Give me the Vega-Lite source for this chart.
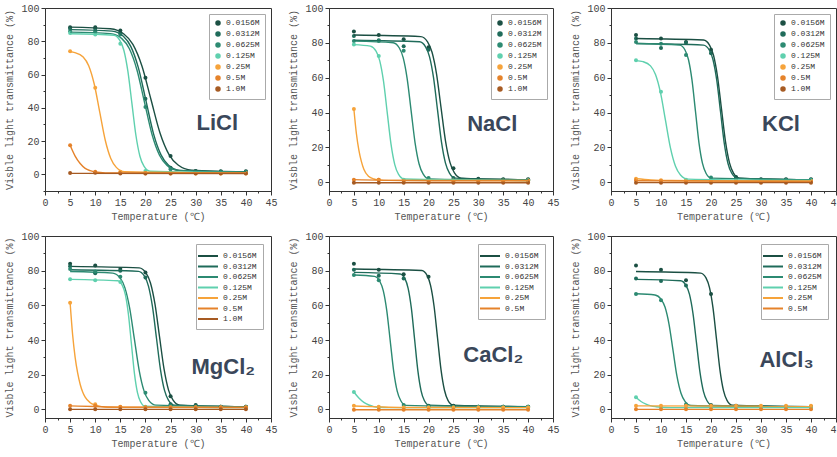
{
"$schema": "https://vega.github.io/schema/vega-lite/v6.json",
"background": "white",
"padding": {"left": 4, "top": 2, "right": 2, "bottom": 2},
"spacing": 8,
"resolve": {"scale": {"fill": "independent", "stroke": "independent", "color": "independent"}},
"config": {
 "view": {"stroke": "#333", "strokeWidth": 1},
 "axis": {"grid": false, "domainColor": "#333", "tickColor": "#333", "labelFont": "Liberation Mono", "labelFontSize": 10, "labelColor": "#444", "titleFont": "Liberation Mono", "titleFontSize": 10, "titleFontWeight": "normal", "titleColor": "#555", "labelFlush": false, "labelOverlap": false, "labelPadding": 2},
 "axisY": {"titlePadding": 6},
 "axisX": {"titlePadding": 4},
 "legend": {"disable": false}
},
"datasets": {
"pts": [
{"p":"LiCl","c":"0.0156M","t":5,"v":88.5},{"p":"LiCl","c":"0.0156M","t":10,"v":88.5},{"p":"LiCl","c":"0.0156M","t":15,"v":86.5},{"p":"LiCl","c":"0.0156M","t":20,"v":58},{"p":"LiCl","c":"0.0156M","t":25,"v":11},{"p":"LiCl","c":"0.0156M","t":30,"v":2},{"p":"LiCl","c":"0.0156M","t":35,"v":1.8},{"p":"LiCl","c":"0.0156M","t":40,"v":1.8},
{"p":"LiCl","c":"0.0312M","t":5,"v":87.5},{"p":"LiCl","c":"0.0312M","t":10,"v":87.5},{"p":"LiCl","c":"0.0312M","t":15,"v":85},{"p":"LiCl","c":"0.0312M","t":20,"v":45.5},{"p":"LiCl","c":"0.0312M","t":25,"v":4},{"p":"LiCl","c":"0.0312M","t":30,"v":1.8},{"p":"LiCl","c":"0.0312M","t":35,"v":1.5},{"p":"LiCl","c":"0.0312M","t":40,"v":1.5},
{"p":"LiCl","c":"0.0625M","t":5,"v":86},{"p":"LiCl","c":"0.0625M","t":10,"v":86},{"p":"LiCl","c":"0.0625M","t":15,"v":84},{"p":"LiCl","c":"0.0625M","t":20,"v":40.5},{"p":"LiCl","c":"0.0625M","t":25,"v":3},{"p":"LiCl","c":"0.0625M","t":30,"v":1.5},{"p":"LiCl","c":"0.0625M","t":35,"v":1.5},{"p":"LiCl","c":"0.0625M","t":40,"v":1.2},
{"p":"LiCl","c":"0.125M","t":5,"v":85},{"p":"LiCl","c":"0.125M","t":10,"v":84},{"p":"LiCl","c":"0.125M","t":15,"v":78.5},{"p":"LiCl","c":"0.125M","t":20,"v":2},{"p":"LiCl","c":"0.125M","t":25,"v":1},{"p":"LiCl","c":"0.125M","t":30,"v":1},{"p":"LiCl","c":"0.125M","t":35,"v":1},{"p":"LiCl","c":"0.125M","t":40,"v":1},
{"p":"LiCl","c":"0.25M","t":5,"v":74},{"p":"LiCl","c":"0.25M","t":10,"v":52},{"p":"LiCl","c":"0.25M","t":15,"v":1.5},{"p":"LiCl","c":"0.25M","t":20,"v":0.5},{"p":"LiCl","c":"0.25M","t":25,"v":0.5},{"p":"LiCl","c":"0.25M","t":30,"v":0.5},{"p":"LiCl","c":"0.25M","t":35,"v":0.5},{"p":"LiCl","c":"0.25M","t":40,"v":0.5},
{"p":"LiCl","c":"0.5M","t":5,"v":17.5},{"p":"LiCl","c":"0.5M","t":10,"v":1.5},{"p":"LiCl","c":"0.5M","t":15,"v":1},{"p":"LiCl","c":"0.5M","t":20,"v":0.8},{"p":"LiCl","c":"0.5M","t":25,"v":0.8},{"p":"LiCl","c":"0.5M","t":30,"v":0.8},{"p":"LiCl","c":"0.5M","t":35,"v":0.8},{"p":"LiCl","c":"0.5M","t":40,"v":0.8},
{"p":"LiCl","c":"1.0M","t":5,"v":0.8},{"p":"LiCl","c":"1.0M","t":10,"v":1},{"p":"LiCl","c":"1.0M","t":15,"v":0.5},{"p":"LiCl","c":"1.0M","t":20,"v":0.5},{"p":"LiCl","c":"1.0M","t":25,"v":0.5},{"p":"LiCl","c":"1.0M","t":30,"v":0.5},{"p":"LiCl","c":"1.0M","t":35,"v":0.5},{"p":"LiCl","c":"1.0M","t":40,"v":0.5},

{"p":"NaCl","c":"0.0156M","t":5,"v":86.5},{"p":"NaCl","c":"0.0156M","t":10,"v":84.5},{"p":"NaCl","c":"0.0156M","t":15,"v":82},{"p":"NaCl","c":"0.0156M","t":20,"v":77.5},{"p":"NaCl","c":"0.0156M","t":25,"v":8},{"p":"NaCl","c":"0.0156M","t":30,"v":2},{"p":"NaCl","c":"0.0156M","t":35,"v":1.8},{"p":"NaCl","c":"0.0156M","t":40,"v":1.8},
{"p":"NaCl","c":"0.0312M","t":5,"v":84},{"p":"NaCl","c":"0.0312M","t":10,"v":81.5},{"p":"NaCl","c":"0.0312M","t":15,"v":78},{"p":"NaCl","c":"0.0312M","t":20,"v":76},{"p":"NaCl","c":"0.0312M","t":25,"v":2.5},{"p":"NaCl","c":"0.0312M","t":30,"v":1.5},{"p":"NaCl","c":"0.0312M","t":35,"v":1.5},{"p":"NaCl","c":"0.0312M","t":40,"v":1.5},
{"p":"NaCl","c":"0.0625M","t":5,"v":81},{"p":"NaCl","c":"0.0625M","t":10,"v":81},{"p":"NaCl","c":"0.0625M","t":15,"v":75.5},{"p":"NaCl","c":"0.0625M","t":20,"v":2.5},{"p":"NaCl","c":"0.0625M","t":25,"v":1.2},{"p":"NaCl","c":"0.0625M","t":30,"v":1.2},{"p":"NaCl","c":"0.0625M","t":35,"v":1.2},{"p":"NaCl","c":"0.0625M","t":40,"v":1.2},
{"p":"NaCl","c":"0.125M","t":5,"v":79},{"p":"NaCl","c":"0.125M","t":10,"v":72.5},{"p":"NaCl","c":"0.125M","t":15,"v":1.5},{"p":"NaCl","c":"0.125M","t":20,"v":1},{"p":"NaCl","c":"0.125M","t":25,"v":1},{"p":"NaCl","c":"0.125M","t":30,"v":1},{"p":"NaCl","c":"0.125M","t":35,"v":1},{"p":"NaCl","c":"0.125M","t":40,"v":1},
{"p":"NaCl","c":"0.25M","t":5,"v":42},{"p":"NaCl","c":"0.25M","t":10,"v":1.5},{"p":"NaCl","c":"0.25M","t":15,"v":1},{"p":"NaCl","c":"0.25M","t":20,"v":1},{"p":"NaCl","c":"0.25M","t":25,"v":1},{"p":"NaCl","c":"0.25M","t":30,"v":1},{"p":"NaCl","c":"0.25M","t":35,"v":1},{"p":"NaCl","c":"0.25M","t":40,"v":1},
{"p":"NaCl","c":"0.5M","t":5,"v":1.5},{"p":"NaCl","c":"0.5M","t":10,"v":1.5},{"p":"NaCl","c":"0.5M","t":15,"v":1},{"p":"NaCl","c":"0.5M","t":20,"v":0.8},{"p":"NaCl","c":"0.5M","t":25,"v":0.8},{"p":"NaCl","c":"0.5M","t":30,"v":0.8},{"p":"NaCl","c":"0.5M","t":35,"v":0.8},{"p":"NaCl","c":"0.5M","t":40,"v":0.8},
{"p":"NaCl","c":"1.0M","t":5,"v":-0.3},{"p":"NaCl","c":"1.0M","t":10,"v":-0.3},{"p":"NaCl","c":"1.0M","t":15,"v":-0.3},{"p":"NaCl","c":"1.0M","t":20,"v":-0.3},{"p":"NaCl","c":"1.0M","t":25,"v":-0.3},{"p":"NaCl","c":"1.0M","t":30,"v":-0.3},{"p":"NaCl","c":"1.0M","t":35,"v":-0.3},{"p":"NaCl","c":"1.0M","t":40,"v":-0.3},

{"p":"KCl","c":"0.0156M","t":5,"v":84.5},{"p":"KCl","c":"0.0156M","t":10,"v":82.5},{"p":"KCl","c":"0.0156M","t":15,"v":80.5},{"p":"KCl","c":"0.0156M","t":20,"v":76},{"p":"KCl","c":"0.0156M","t":25,"v":3},{"p":"KCl","c":"0.0156M","t":30,"v":1.8},{"p":"KCl","c":"0.0156M","t":35,"v":1.8},{"p":"KCl","c":"0.0156M","t":40,"v":1.8},
{"p":"KCl","c":"0.0312M","t":5,"v":82.5},{"p":"KCl","c":"0.0312M","t":10,"v":77},{"p":"KCl","c":"0.0312M","t":15,"v":80},{"p":"KCl","c":"0.0312M","t":20,"v":74},{"p":"KCl","c":"0.0312M","t":25,"v":2.5},{"p":"KCl","c":"0.0312M","t":30,"v":1.5},{"p":"KCl","c":"0.0312M","t":35,"v":1.5},{"p":"KCl","c":"0.0312M","t":40,"v":1.5},
{"p":"KCl","c":"0.0625M","t":5,"v":80.5},{"p":"KCl","c":"0.0625M","t":10,"v":79.5},{"p":"KCl","c":"0.0625M","t":15,"v":73},{"p":"KCl","c":"0.0625M","t":20,"v":2.8},{"p":"KCl","c":"0.0625M","t":25,"v":1.5},{"p":"KCl","c":"0.0625M","t":30,"v":1.5},{"p":"KCl","c":"0.0625M","t":35,"v":1.5},{"p":"KCl","c":"0.0625M","t":40,"v":1.5},
{"p":"KCl","c":"0.125M","t":5,"v":70},{"p":"KCl","c":"0.125M","t":10,"v":52},{"p":"KCl","c":"0.125M","t":15,"v":1.5},{"p":"KCl","c":"0.125M","t":20,"v":1},{"p":"KCl","c":"0.125M","t":25,"v":1},{"p":"KCl","c":"0.125M","t":30,"v":1},{"p":"KCl","c":"0.125M","t":35,"v":1},{"p":"KCl","c":"0.125M","t":40,"v":1},
{"p":"KCl","c":"0.25M","t":5,"v":2},{"p":"KCl","c":"0.25M","t":10,"v":1.2},{"p":"KCl","c":"0.25M","t":15,"v":0.9},{"p":"KCl","c":"0.25M","t":20,"v":0.8},{"p":"KCl","c":"0.25M","t":25,"v":0.8},{"p":"KCl","c":"0.25M","t":30,"v":0.8},{"p":"KCl","c":"0.25M","t":35,"v":0.8},{"p":"KCl","c":"0.25M","t":40,"v":0.8},
{"p":"KCl","c":"0.5M","t":5,"v":1.2},{"p":"KCl","c":"0.5M","t":10,"v":0.8},{"p":"KCl","c":"0.5M","t":15,"v":0.5},{"p":"KCl","c":"0.5M","t":20,"v":0.5},{"p":"KCl","c":"0.5M","t":25,"v":0.5},{"p":"KCl","c":"0.5M","t":30,"v":0.5},{"p":"KCl","c":"0.5M","t":35,"v":0.5},{"p":"KCl","c":"0.5M","t":40,"v":0.5},
{"p":"KCl","c":"1.0M","t":5,"v":-0.2},{"p":"KCl","c":"1.0M","t":10,"v":-0.2},{"p":"KCl","c":"1.0M","t":15,"v":-0.2},{"p":"KCl","c":"1.0M","t":20,"v":-0.2},{"p":"KCl","c":"1.0M","t":25,"v":-0.2},{"p":"KCl","c":"1.0M","t":30,"v":-0.2},{"p":"KCl","c":"1.0M","t":35,"v":-0.2},{"p":"KCl","c":"1.0M","t":40,"v":-0.2},

{"p":"MgCl2","c":"0.0156M","t":5,"v":84},{"p":"MgCl2","c":"0.0156M","t":10,"v":83},{"p":"MgCl2","c":"0.0156M","t":15,"v":81},{"p":"MgCl2","c":"0.0156M","t":20,"v":79},{"p":"MgCl2","c":"0.0156M","t":25,"v":7.5},{"p":"MgCl2","c":"0.0156M","t":30,"v":2.5},{"p":"MgCl2","c":"0.0156M","t":35,"v":1.5},{"p":"MgCl2","c":"0.0156M","t":40,"v":1.5},
{"p":"MgCl2","c":"0.0312M","t":5,"v":82.5},{"p":"MgCl2","c":"0.0312M","t":10,"v":78.5},{"p":"MgCl2","c":"0.0312M","t":15,"v":80},{"p":"MgCl2","c":"0.0312M","t":20,"v":76},{"p":"MgCl2","c":"0.0312M","t":25,"v":3},{"p":"MgCl2","c":"0.0312M","t":30,"v":2},{"p":"MgCl2","c":"0.0312M","t":35,"v":1.5},{"p":"MgCl2","c":"0.0312M","t":40,"v":1.5},
{"p":"MgCl2","c":"0.0625M","t":5,"v":81},{"p":"MgCl2","c":"0.0625M","t":10,"v":79.5},{"p":"MgCl2","c":"0.0625M","t":15,"v":76.5},{"p":"MgCl2","c":"0.0625M","t":20,"v":9.5},{"p":"MgCl2","c":"0.0625M","t":25,"v":2},{"p":"MgCl2","c":"0.0625M","t":30,"v":1.5},{"p":"MgCl2","c":"0.0625M","t":35,"v":1.5},{"p":"MgCl2","c":"0.0625M","t":40,"v":1.5},
{"p":"MgCl2","c":"0.125M","t":5,"v":75},{"p":"MgCl2","c":"0.125M","t":10,"v":74.5},{"p":"MgCl2","c":"0.125M","t":15,"v":73.5},{"p":"MgCl2","c":"0.125M","t":20,"v":1.5},{"p":"MgCl2","c":"0.125M","t":25,"v":1},{"p":"MgCl2","c":"0.125M","t":30,"v":1},{"p":"MgCl2","c":"0.125M","t":35,"v":1},{"p":"MgCl2","c":"0.125M","t":40,"v":1},
{"p":"MgCl2","c":"0.25M","t":5,"v":61.5},{"p":"MgCl2","c":"0.25M","t":10,"v":3},{"p":"MgCl2","c":"0.25M","t":15,"v":1.5},{"p":"MgCl2","c":"0.25M","t":20,"v":1},{"p":"MgCl2","c":"0.25M","t":25,"v":1},{"p":"MgCl2","c":"0.25M","t":30,"v":1},{"p":"MgCl2","c":"0.25M","t":35,"v":1},{"p":"MgCl2","c":"0.25M","t":40,"v":1},
{"p":"MgCl2","c":"0.5M","t":5,"v":2},{"p":"MgCl2","c":"0.5M","t":10,"v":2},{"p":"MgCl2","c":"0.5M","t":15,"v":1.3},{"p":"MgCl2","c":"0.5M","t":20,"v":1.2},{"p":"MgCl2","c":"0.5M","t":25,"v":1.2},{"p":"MgCl2","c":"0.5M","t":30,"v":1.2},{"p":"MgCl2","c":"0.5M","t":35,"v":1.2},{"p":"MgCl2","c":"0.5M","t":40,"v":1.2},
{"p":"MgCl2","c":"1.0M","t":5,"v":0},{"p":"MgCl2","c":"1.0M","t":10,"v":0},{"p":"MgCl2","c":"1.0M","t":15,"v":0},{"p":"MgCl2","c":"1.0M","t":20,"v":0},{"p":"MgCl2","c":"1.0M","t":25,"v":0},{"p":"MgCl2","c":"1.0M","t":30,"v":0},{"p":"MgCl2","c":"1.0M","t":35,"v":0},{"p":"MgCl2","c":"1.0M","t":40,"v":0},

{"p":"CaCl2","c":"0.0156M","t":5,"v":84},{"p":"CaCl2","c":"0.0156M","t":10,"v":80.5},{"p":"CaCl2","c":"0.0156M","t":15,"v":78},{"p":"CaCl2","c":"0.0156M","t":20,"v":76.5},{"p":"CaCl2","c":"0.0156M","t":25,"v":2},{"p":"CaCl2","c":"0.0156M","t":30,"v":1.5},{"p":"CaCl2","c":"0.0156M","t":35,"v":1.5},{"p":"CaCl2","c":"0.0156M","t":40,"v":1.5},
{"p":"CaCl2","c":"0.0312M","t":5,"v":80.5},{"p":"CaCl2","c":"0.0312M","t":10,"v":77},{"p":"CaCl2","c":"0.0312M","t":15,"v":75.5},{"p":"CaCl2","c":"0.0312M","t":20,"v":2},{"p":"CaCl2","c":"0.0312M","t":25,"v":1.5},{"p":"CaCl2","c":"0.0312M","t":30,"v":1.5},{"p":"CaCl2","c":"0.0312M","t":35,"v":1.5},{"p":"CaCl2","c":"0.0312M","t":40,"v":1.5},
{"p":"CaCl2","c":"0.0625M","t":5,"v":77.5},{"p":"CaCl2","c":"0.0625M","t":10,"v":74.5},{"p":"CaCl2","c":"0.0625M","t":15,"v":2.5},{"p":"CaCl2","c":"0.0625M","t":20,"v":1.5},{"p":"CaCl2","c":"0.0625M","t":25,"v":1.5},{"p":"CaCl2","c":"0.0625M","t":30,"v":1.5},{"p":"CaCl2","c":"0.0625M","t":35,"v":1.5},{"p":"CaCl2","c":"0.0625M","t":40,"v":1.5},
{"p":"CaCl2","c":"0.125M","t":5,"v":10},{"p":"CaCl2","c":"0.125M","t":10,"v":1},{"p":"CaCl2","c":"0.125M","t":15,"v":1},{"p":"CaCl2","c":"0.125M","t":20,"v":1},{"p":"CaCl2","c":"0.125M","t":25,"v":1},{"p":"CaCl2","c":"0.125M","t":30,"v":1},{"p":"CaCl2","c":"0.125M","t":35,"v":1},{"p":"CaCl2","c":"0.125M","t":40,"v":1},
{"p":"CaCl2","c":"0.25M","t":5,"v":2},{"p":"CaCl2","c":"0.25M","t":10,"v":1.5},{"p":"CaCl2","c":"0.25M","t":15,"v":1},{"p":"CaCl2","c":"0.25M","t":20,"v":1},{"p":"CaCl2","c":"0.25M","t":25,"v":1},{"p":"CaCl2","c":"0.25M","t":30,"v":1},{"p":"CaCl2","c":"0.25M","t":35,"v":1},{"p":"CaCl2","c":"0.25M","t":40,"v":1},
{"p":"CaCl2","c":"0.5M","t":5,"v":-0.2},{"p":"CaCl2","c":"0.5M","t":10,"v":-0.2},{"p":"CaCl2","c":"0.5M","t":15,"v":-0.2},{"p":"CaCl2","c":"0.5M","t":20,"v":-0.2},{"p":"CaCl2","c":"0.5M","t":25,"v":-0.2},{"p":"CaCl2","c":"0.5M","t":30,"v":-0.2},{"p":"CaCl2","c":"0.5M","t":35,"v":-0.2},{"p":"CaCl2","c":"0.5M","t":40,"v":-0.2},

{"p":"AlCl3","c":"0.0156M","t":5,"v":83},{"p":"AlCl3","c":"0.0156M","t":10,"v":80.5},{"p":"AlCl3","c":"0.0156M","t":15,"v":74.5},{"p":"AlCl3","c":"0.0156M","t":20,"v":66.5},{"p":"AlCl3","c":"0.0156M","t":25,"v":2},{"p":"AlCl3","c":"0.0156M","t":30,"v":1.5},{"p":"AlCl3","c":"0.0156M","t":35,"v":1.5},{"p":"AlCl3","c":"0.0156M","t":40,"v":1.5},
{"p":"AlCl3","c":"0.0312M","t":5,"v":75.5},{"p":"AlCl3","c":"0.0312M","t":10,"v":74},{"p":"AlCl3","c":"0.0312M","t":15,"v":71.5},{"p":"AlCl3","c":"0.0312M","t":20,"v":2.5},{"p":"AlCl3","c":"0.0312M","t":25,"v":1.5},{"p":"AlCl3","c":"0.0312M","t":30,"v":1.5},{"p":"AlCl3","c":"0.0312M","t":35,"v":1.5},{"p":"AlCl3","c":"0.0312M","t":40,"v":1.5},
{"p":"AlCl3","c":"0.0625M","t":5,"v":66.5},{"p":"AlCl3","c":"0.0625M","t":10,"v":63},{"p":"AlCl3","c":"0.0625M","t":15,"v":3},{"p":"AlCl3","c":"0.0625M","t":20,"v":1.5},{"p":"AlCl3","c":"0.0625M","t":25,"v":1.5},{"p":"AlCl3","c":"0.0625M","t":30,"v":1.5},{"p":"AlCl3","c":"0.0625M","t":35,"v":1.5},{"p":"AlCl3","c":"0.0625M","t":40,"v":1.5},
{"p":"AlCl3","c":"0.125M","t":5,"v":7},{"p":"AlCl3","c":"0.125M","t":10,"v":1},{"p":"AlCl3","c":"0.125M","t":15,"v":1},{"p":"AlCl3","c":"0.125M","t":20,"v":1},{"p":"AlCl3","c":"0.125M","t":25,"v":1},{"p":"AlCl3","c":"0.125M","t":30,"v":1},{"p":"AlCl3","c":"0.125M","t":35,"v":1},{"p":"AlCl3","c":"0.125M","t":40,"v":1},
{"p":"AlCl3","c":"0.25M","t":5,"v":2},{"p":"AlCl3","c":"0.25M","t":10,"v":2},{"p":"AlCl3","c":"0.25M","t":15,"v":2},{"p":"AlCl3","c":"0.25M","t":20,"v":2},{"p":"AlCl3","c":"0.25M","t":25,"v":2},{"p":"AlCl3","c":"0.25M","t":30,"v":2},{"p":"AlCl3","c":"0.25M","t":35,"v":2},{"p":"AlCl3","c":"0.25M","t":40,"v":2},
{"p":"AlCl3","c":"0.5M","t":5,"v":0},{"p":"AlCl3","c":"0.5M","t":10,"v":0},{"p":"AlCl3","c":"0.5M","t":15,"v":0},{"p":"AlCl3","c":"0.5M","t":20,"v":0},{"p":"AlCl3","c":"0.5M","t":25,"v":0},{"p":"AlCl3","c":"0.5M","t":30,"v":0},{"p":"AlCl3","c":"0.5M","t":35,"v":0},{"p":"AlCl3","c":"0.5M","t":40,"v":0}
],
"fit": [
{"p":"LiCl","c":"0.0156M","t":5,"v":88.5},{"p":"LiCl","c":"0.0156M","t":13,"v":87.5},{"p":"LiCl","c":"0.0156M","t":15.7,"v":84.4},{"p":"LiCl","c":"0.0156M","t":17.5,"v":78.1},{"p":"LiCl","c":"0.0156M","t":19.3,"v":65.1},{"p":"LiCl","c":"0.0156M","t":21.1,"v":45},{"p":"LiCl","c":"0.0156M","t":22.9,"v":24.9},{"p":"LiCl","c":"0.0156M","t":24.7,"v":11.9},{"p":"LiCl","c":"0.0156M","t":26.5,"v":5.6},{"p":"LiCl","c":"0.0156M","t":29.2,"v":2.5},{"p":"LiCl","c":"0.0156M","t":40,"v":1.5},
{"p":"LiCl","c":"0.0312M","t":5,"v":87},{"p":"LiCl","c":"0.0312M","t":13.35,"v":86.1},{"p":"LiCl","c":"0.0312M","t":15.6,"v":83},{"p":"LiCl","c":"0.0312M","t":17.1,"v":76.8},{"p":"LiCl","c":"0.0312M","t":18.6,"v":64},{"p":"LiCl","c":"0.0312M","t":20.1,"v":44.3},{"p":"LiCl","c":"0.0312M","t":21.6,"v":24.5},{"p":"LiCl","c":"0.0312M","t":23.1,"v":11.7},{"p":"LiCl","c":"0.0312M","t":24.6,"v":5.5},{"p":"LiCl","c":"0.0312M","t":26.85,"v":2.4},{"p":"LiCl","c":"0.0312M","t":40,"v":1.5},
{"p":"LiCl","c":"0.0625M","t":5,"v":85.5},{"p":"LiCl","c":"0.0625M","t":13.05,"v":84.6},{"p":"LiCl","c":"0.0625M","t":15.3,"v":81.6},{"p":"LiCl","c":"0.0625M","t":16.8,"v":75.5},{"p":"LiCl","c":"0.0625M","t":18.3,"v":62.9},{"p":"LiCl","c":"0.0625M","t":19.8,"v":43.5},{"p":"LiCl","c":"0.0625M","t":21.3,"v":24.1},{"p":"LiCl","c":"0.0625M","t":22.8,"v":11.5},{"p":"LiCl","c":"0.0625M","t":24.3,"v":5.4},{"p":"LiCl","c":"0.0625M","t":26.55,"v":2.4},{"p":"LiCl","c":"0.0625M","t":40,"v":1.5},
{"p":"LiCl","c":"0.125M","t":5,"v":84.5},{"p":"LiCl","c":"0.125M","t":13.7,"v":83.6},{"p":"LiCl","c":"0.125M","t":14.9,"v":80.6},{"p":"LiCl","c":"0.125M","t":15.7,"v":74.6},{"p":"LiCl","c":"0.125M","t":16.5,"v":62},{"p":"LiCl","c":"0.125M","t":17.3,"v":42.8},{"p":"LiCl","c":"0.125M","t":18.1,"v":23.5},{"p":"LiCl","c":"0.125M","t":18.9,"v":10.9},{"p":"LiCl","c":"0.125M","t":19.7,"v":4.9},{"p":"LiCl","c":"0.125M","t":20.9,"v":1.9},{"p":"LiCl","c":"0.125M","t":40,"v":1},
{"p":"LiCl","c":"0.25M","t":5,"v":73.7},{"p":"LiCl","c":"0.25M","t":5.95,"v":73.2},{"p":"LiCl","c":"0.25M","t":7.6,"v":70.6},{"p":"LiCl","c":"0.25M","t":8.7,"v":65.3},{"p":"LiCl","c":"0.25M","t":9.8,"v":54.3},{"p":"LiCl","c":"0.25M","t":10.9,"v":37.4},{"p":"LiCl","c":"0.25M","t":12,"v":20.5},{"p":"LiCl","c":"0.25M","t":13.1,"v":9.5},{"p":"LiCl","c":"0.25M","t":14.2,"v":4.2},{"p":"LiCl","c":"0.25M","t":15.85,"v":1.6},{"p":"LiCl","c":"0.25M","t":40,"v":0.8},
{"p":"LiCl","c":"0.5M","t":5,"v":17.5},{"p":"LiCl","c":"0.5M","t":6,"v":11},{"p":"LiCl","c":"0.5M","t":7,"v":6.5},{"p":"LiCl","c":"0.5M","t":8,"v":3.6},{"p":"LiCl","c":"0.5M","t":9,"v":2.2},{"p":"LiCl","c":"0.5M","t":10,"v":1.4},{"p":"LiCl","c":"0.5M","t":12,"v":0.9},{"p":"LiCl","c":"0.5M","t":40,"v":0.8},
{"p":"LiCl","c":"1.0M","t":5,"v":0.6},{"p":"LiCl","c":"1.0M","t":40,"v":0.5},

{"p":"NaCl","c":"0.0156M","t":5,"v":84.5},{"p":"NaCl","c":"0.0156M","t":18.45,"v":83.6},{"p":"NaCl","c":"0.0156M","t":19.8,"v":80.6},{"p":"NaCl","c":"0.0156M","t":20.7,"v":74.6},{"p":"NaCl","c":"0.0156M","t":21.6,"v":62.2},{"p":"NaCl","c":"0.0156M","t":22.5,"v":43},{"p":"NaCl","c":"0.0156M","t":23.4,"v":23.8},{"p":"NaCl","c":"0.0156M","t":24.3,"v":11.4},{"p":"NaCl","c":"0.0156M","t":25.2,"v":5.4},{"p":"NaCl","c":"0.0156M","t":26.55,"v":2.4},{"p":"NaCl","c":"0.0156M","t":40,"v":1.5},
{"p":"NaCl","c":"0.0312M","t":5,"v":81.5},{"p":"NaCl","c":"0.0312M","t":18.2,"v":80.6},{"p":"NaCl","c":"0.0312M","t":19.4,"v":77.7},{"p":"NaCl","c":"0.0312M","t":20.2,"v":72},{"p":"NaCl","c":"0.0312M","t":21,"v":60},{"p":"NaCl","c":"0.0312M","t":21.8,"v":41.5},{"p":"NaCl","c":"0.0312M","t":22.6,"v":23},{"p":"NaCl","c":"0.0312M","t":23.4,"v":11},{"p":"NaCl","c":"0.0312M","t":24.2,"v":5.3},{"p":"NaCl","c":"0.0312M","t":25.4,"v":2.4},{"p":"NaCl","c":"0.0312M","t":40,"v":1.5},
{"p":"NaCl","c":"0.0625M","t":5,"v":81},{"p":"NaCl","c":"0.0625M","t":12.9,"v":80.1},{"p":"NaCl","c":"0.0625M","t":14.1,"v":77.2},{"p":"NaCl","c":"0.0625M","t":14.9,"v":71.5},{"p":"NaCl","c":"0.0625M","t":15.7,"v":59.5},{"p":"NaCl","c":"0.0625M","t":16.5,"v":41},{"p":"NaCl","c":"0.0625M","t":17.3,"v":22.5},{"p":"NaCl","c":"0.0625M","t":18.1,"v":10.5},{"p":"NaCl","c":"0.0625M","t":18.9,"v":4.8},{"p":"NaCl","c":"0.0625M","t":20.1,"v":1.9},{"p":"NaCl","c":"0.0625M","t":40,"v":1},
{"p":"NaCl","c":"0.125M","t":5,"v":79},{"p":"NaCl","c":"0.125M","t":8.3,"v":78.1},{"p":"NaCl","c":"0.125M","t":9.45,"v":75.3},{"p":"NaCl","c":"0.125M","t":10.2,"v":69.7},{"p":"NaCl","c":"0.125M","t":10.95,"v":58},{"p":"NaCl","c":"0.125M","t":11.7,"v":40},{"p":"NaCl","c":"0.125M","t":12.45,"v":22},{"p":"NaCl","c":"0.125M","t":13.2,"v":10.3},{"p":"NaCl","c":"0.125M","t":13.95,"v":4.7},{"p":"NaCl","c":"0.125M","t":15.1,"v":1.9},{"p":"NaCl","c":"0.125M","t":40,"v":1},
{"p":"NaCl","c":"0.25M","t":5,"v":42},{"p":"NaCl","c":"0.25M","t":5.5,"v":28},{"p":"NaCl","c":"0.25M","t":6,"v":18.5},{"p":"NaCl","c":"0.25M","t":6.5,"v":12},{"p":"NaCl","c":"0.25M","t":7,"v":7.5},{"p":"NaCl","c":"0.25M","t":8,"v":3.3},{"p":"NaCl","c":"0.25M","t":9,"v":1.9},{"p":"NaCl","c":"0.25M","t":10,"v":1.4},{"p":"NaCl","c":"0.25M","t":12,"v":1.1},{"p":"NaCl","c":"0.25M","t":40,"v":1},
{"p":"NaCl","c":"0.5M","t":5,"v":1.5},{"p":"NaCl","c":"0.5M","t":15,"v":1},{"p":"NaCl","c":"0.5M","t":40,"v":0.8},
{"p":"NaCl","c":"1.0M","t":5,"v":-0.3},{"p":"NaCl","c":"1.0M","t":40,"v":-0.3},

{"p":"KCl","c":"0.0156M","t":5,"v":82.5},{"p":"KCl","c":"0.0156M","t":18.5,"v":81.6},{"p":"KCl","c":"0.0156M","t":19.7,"v":78.7},{"p":"KCl","c":"0.0156M","t":20.5,"v":72.9},{"p":"KCl","c":"0.0156M","t":21.3,"v":60.7},{"p":"KCl","c":"0.0156M","t":22.1,"v":42},{"p":"KCl","c":"0.0156M","t":22.9,"v":23.3},{"p":"KCl","c":"0.0156M","t":23.7,"v":11.1},{"p":"KCl","c":"0.0156M","t":24.5,"v":5.3},{"p":"KCl","c":"0.0156M","t":25.7,"v":2.4},{"p":"KCl","c":"0.0156M","t":40,"v":1.5},
{"p":"KCl","c":"0.0312M","t":5,"v":79.6},{"p":"KCl","c":"0.0312M","t":18.5,"v":78.7},{"p":"KCl","c":"0.0312M","t":19.65,"v":75.9},{"p":"KCl","c":"0.0312M","t":20.4,"v":70.3},{"p":"KCl","c":"0.0312M","t":21.15,"v":58.6},{"p":"KCl","c":"0.0312M","t":21.9,"v":40.6},{"p":"KCl","c":"0.0312M","t":22.65,"v":22.5},{"p":"KCl","c":"0.0312M","t":23.4,"v":10.8},{"p":"KCl","c":"0.0312M","t":24.15,"v":5.2},{"p":"KCl","c":"0.0312M","t":25.3,"v":2.4},{"p":"KCl","c":"0.0312M","t":40,"v":1.5},
{"p":"KCl","c":"0.0625M","t":5,"v":79.6},{"p":"KCl","c":"0.0625M","t":13.75,"v":78.7},{"p":"KCl","c":"0.0625M","t":14.8,"v":75.9},{"p":"KCl","c":"0.0625M","t":15.5,"v":70.3},{"p":"KCl","c":"0.0625M","t":16.2,"v":58.6},{"p":"KCl","c":"0.0625M","t":16.9,"v":40.6},{"p":"KCl","c":"0.0625M","t":17.6,"v":22.5},{"p":"KCl","c":"0.0625M","t":18.3,"v":10.8},{"p":"KCl","c":"0.0625M","t":19,"v":5.2},{"p":"KCl","c":"0.0625M","t":20.05,"v":2.4},{"p":"KCl","c":"0.0625M","t":40,"v":1.5},
{"p":"KCl","c":"0.125M","t":5,"v":69.8},{"p":"KCl","c":"0.125M","t":6.4,"v":69.2},{"p":"KCl","c":"0.125M","t":7.9,"v":66.8},{"p":"KCl","c":"0.125M","t":8.9,"v":61.8},{"p":"KCl","c":"0.125M","t":9.9,"v":51.4},{"p":"KCl","c":"0.125M","t":10.9,"v":35.5},{"p":"KCl","c":"0.125M","t":11.9,"v":19.6},{"p":"KCl","c":"0.125M","t":12.9,"v":9.2},{"p":"KCl","c":"0.125M","t":13.9,"v":4.2},{"p":"KCl","c":"0.125M","t":15.4,"v":1.8},{"p":"KCl","c":"0.125M","t":40,"v":1},
{"p":"KCl","c":"0.25M","t":5,"v":2},{"p":"KCl","c":"0.25M","t":8,"v":1.4},{"p":"KCl","c":"0.25M","t":12,"v":1},{"p":"KCl","c":"0.25M","t":20,"v":0.8},{"p":"KCl","c":"0.25M","t":40,"v":0.7},
{"p":"KCl","c":"0.5M","t":5,"v":0.9},{"p":"KCl","c":"0.5M","t":40,"v":0.5},
{"p":"KCl","c":"1.0M","t":5,"v":-0.2},{"p":"KCl","c":"1.0M","t":40,"v":-0.2},

{"p":"MgCl2","c":"0.0156M","t":5,"v":82.5},{"p":"MgCl2","c":"0.0156M","t":18.75,"v":81.6},{"p":"MgCl2","c":"0.0156M","t":20.1,"v":78.7},{"p":"MgCl2","c":"0.0156M","t":21,"v":72.9},{"p":"MgCl2","c":"0.0156M","t":21.9,"v":60.7},{"p":"MgCl2","c":"0.0156M","t":22.8,"v":42},{"p":"MgCl2","c":"0.0156M","t":23.7,"v":23.3},{"p":"MgCl2","c":"0.0156M","t":24.6,"v":11.1},{"p":"MgCl2","c":"0.0156M","t":25.5,"v":5.3},{"p":"MgCl2","c":"0.0156M","t":26.85,"v":2.4},{"p":"MgCl2","c":"0.0156M","t":40,"v":1.5},
{"p":"MgCl2","c":"0.0312M","t":5,"v":80.5},{"p":"MgCl2","c":"0.0312M","t":18.6,"v":79.6},{"p":"MgCl2","c":"0.0312M","t":19.8,"v":76.8},{"p":"MgCl2","c":"0.0312M","t":20.6,"v":71.1},{"p":"MgCl2","c":"0.0312M","t":21.4,"v":59.2},{"p":"MgCl2","c":"0.0312M","t":22.2,"v":41},{"p":"MgCl2","c":"0.0312M","t":23,"v":22.8},{"p":"MgCl2","c":"0.0312M","t":23.8,"v":10.9},{"p":"MgCl2","c":"0.0312M","t":24.6,"v":5.2},{"p":"MgCl2","c":"0.0312M","t":25.8,"v":2.4},{"p":"MgCl2","c":"0.0312M","t":40,"v":1.5},
{"p":"MgCl2","c":"0.0625M","t":5,"v":79.5},{"p":"MgCl2","c":"0.0625M","t":13.5,"v":78.6},{"p":"MgCl2","c":"0.0625M","t":14.95,"v":75.8},{"p":"MgCl2","c":"0.0625M","t":15.9,"v":70.2},{"p":"MgCl2","c":"0.0625M","t":16.85,"v":58.5},{"p":"MgCl2","c":"0.0625M","t":17.8,"v":40.5},{"p":"MgCl2","c":"0.0625M","t":18.75,"v":22.5},{"p":"MgCl2","c":"0.0625M","t":19.7,"v":10.8},{"p":"MgCl2","c":"0.0625M","t":20.65,"v":5.2},{"p":"MgCl2","c":"0.0625M","t":22.1,"v":2.4},{"p":"MgCl2","c":"0.0625M","t":40,"v":1.5},
{"p":"MgCl2","c":"0.125M","t":5,"v":75},{"p":"MgCl2","c":"0.125M","t":14.5,"v":74.2},{"p":"MgCl2","c":"0.125M","t":15.4,"v":71.5},{"p":"MgCl2","c":"0.125M","t":16,"v":66.2},{"p":"MgCl2","c":"0.125M","t":16.6,"v":55.1},{"p":"MgCl2","c":"0.125M","t":17.2,"v":38},{"p":"MgCl2","c":"0.125M","t":17.8,"v":20.9},{"p":"MgCl2","c":"0.125M","t":18.4,"v":9.8},{"p":"MgCl2","c":"0.125M","t":19,"v":4.5},{"p":"MgCl2","c":"0.125M","t":19.9,"v":1.8},{"p":"MgCl2","c":"0.125M","t":40,"v":1},
{"p":"MgCl2","c":"0.25M","t":5,"v":61.5},{"p":"MgCl2","c":"0.25M","t":5.5,"v":43},{"p":"MgCl2","c":"0.25M","t":6,"v":30},{"p":"MgCl2","c":"0.25M","t":6.5,"v":21},{"p":"MgCl2","c":"0.25M","t":7,"v":14.5},{"p":"MgCl2","c":"0.25M","t":7.5,"v":10},{"p":"MgCl2","c":"0.25M","t":8,"v":7},{"p":"MgCl2","c":"0.25M","t":9,"v":3.8},{"p":"MgCl2","c":"0.25M","t":10,"v":2.4},{"p":"MgCl2","c":"0.25M","t":11,"v":1.7},{"p":"MgCl2","c":"0.25M","t":13,"v":1.2},{"p":"MgCl2","c":"0.25M","t":40,"v":1},
{"p":"MgCl2","c":"0.5M","t":5,"v":2},{"p":"MgCl2","c":"0.5M","t":10,"v":1.6},{"p":"MgCl2","c":"0.5M","t":15,"v":1.3},{"p":"MgCl2","c":"0.5M","t":40,"v":1.2},
{"p":"MgCl2","c":"1.0M","t":5,"v":0},{"p":"MgCl2","c":"1.0M","t":40,"v":0},

{"p":"CaCl2","c":"0.0156M","t":5,"v":81},{"p":"CaCl2","c":"0.0156M","t":18.65,"v":80.1},{"p":"CaCl2","c":"0.0156M","t":19.7,"v":77.3},{"p":"CaCl2","c":"0.0156M","t":20.4,"v":71.5},{"p":"CaCl2","c":"0.0156M","t":21.1,"v":59.6},{"p":"CaCl2","c":"0.0156M","t":21.8,"v":41.3},{"p":"CaCl2","c":"0.0156M","t":22.5,"v":22.9},{"p":"CaCl2","c":"0.0156M","t":23.2,"v":11},{"p":"CaCl2","c":"0.0156M","t":23.9,"v":5.2},{"p":"CaCl2","c":"0.0156M","t":24.95,"v":2.4},{"p":"CaCl2","c":"0.0156M","t":40,"v":1.5},
{"p":"CaCl2","c":"0.0312M","t":5,"v":79},{"p":"CaCl2","c":"0.0312M","t":14.3,"v":78.1},{"p":"CaCl2","c":"0.0312M","t":15.25,"v":75.4},{"p":"CaCl2","c":"0.0312M","t":15.9,"v":69.8},{"p":"CaCl2","c":"0.0312M","t":16.55,"v":58.2},{"p":"CaCl2","c":"0.0312M","t":17.2,"v":40.3},{"p":"CaCl2","c":"0.0312M","t":17.85,"v":22.3},{"p":"CaCl2","c":"0.0312M","t":18.5,"v":10.7},{"p":"CaCl2","c":"0.0312M","t":19.15,"v":5.1},{"p":"CaCl2","c":"0.0312M","t":20.1,"v":2.4},{"p":"CaCl2","c":"0.0312M","t":40,"v":1.5},
{"p":"CaCl2","c":"0.0625M","t":5,"v":77.5},{"p":"CaCl2","c":"0.0625M","t":9.15,"v":76.7},{"p":"CaCl2","c":"0.0625M","t":10.2,"v":73.9},{"p":"CaCl2","c":"0.0625M","t":10.9,"v":68.5},{"p":"CaCl2","c":"0.0625M","t":11.6,"v":57.1},{"p":"CaCl2","c":"0.0625M","t":12.3,"v":39.5},{"p":"CaCl2","c":"0.0625M","t":13,"v":21.9},{"p":"CaCl2","c":"0.0625M","t":13.7,"v":10.5},{"p":"CaCl2","c":"0.0625M","t":14.4,"v":5.1},{"p":"CaCl2","c":"0.0625M","t":15.45,"v":2.3},{"p":"CaCl2","c":"0.0625M","t":40,"v":1.5},
{"p":"CaCl2","c":"0.125M","t":5,"v":10},{"p":"CaCl2","c":"0.125M","t":6,"v":6.5},{"p":"CaCl2","c":"0.125M","t":7,"v":4},{"p":"CaCl2","c":"0.125M","t":8,"v":2.5},{"p":"CaCl2","c":"0.125M","t":9,"v":1.6},{"p":"CaCl2","c":"0.125M","t":10,"v":1.2},{"p":"CaCl2","c":"0.125M","t":12,"v":1},{"p":"CaCl2","c":"0.125M","t":40,"v":1},
{"p":"CaCl2","c":"0.25M","t":5,"v":1.9},{"p":"CaCl2","c":"0.25M","t":10,"v":1.4},{"p":"CaCl2","c":"0.25M","t":15,"v":1.1},{"p":"CaCl2","c":"0.25M","t":40,"v":1},
{"p":"CaCl2","c":"0.5M","t":5,"v":-0.2},{"p":"CaCl2","c":"0.5M","t":40,"v":-0.2},

{"p":"AlCl3","c":"0.0156M","t":5,"v":79.5},{"p":"AlCl3","c":"0.0156M","t":17.95,"v":78.6},{"p":"AlCl3","c":"0.0156M","t":19,"v":75.8},{"p":"AlCl3","c":"0.0156M","t":19.7,"v":70.2},{"p":"AlCl3","c":"0.0156M","t":20.4,"v":58.5},{"p":"AlCl3","c":"0.0156M","t":21.1,"v":40.5},{"p":"AlCl3","c":"0.0156M","t":21.8,"v":22.5},{"p":"AlCl3","c":"0.0156M","t":22.5,"v":10.8},{"p":"AlCl3","c":"0.0156M","t":23.2,"v":5.2},{"p":"AlCl3","c":"0.0156M","t":24.25,"v":2.4},{"p":"AlCl3","c":"0.0156M","t":40,"v":1.5},
{"p":"AlCl3","c":"0.0312M","t":5,"v":75},{"p":"AlCl3","c":"0.0312M","t":13.95,"v":74.2},{"p":"AlCl3","c":"0.0312M","t":15,"v":71.5},{"p":"AlCl3","c":"0.0312M","t":15.7,"v":66.3},{"p":"AlCl3","c":"0.0312M","t":16.4,"v":55.2},{"p":"AlCl3","c":"0.0312M","t":17.1,"v":38.3},{"p":"AlCl3","c":"0.0312M","t":17.8,"v":21.3},{"p":"AlCl3","c":"0.0312M","t":18.5,"v":10.2},{"p":"AlCl3","c":"0.0312M","t":19.2,"v":4.95},{"p":"AlCl3","c":"0.0312M","t":20.25,"v":2.3},{"p":"AlCl3","c":"0.0312M","t":40,"v":1.5},
{"p":"AlCl3","c":"0.0625M","t":5,"v":66.7},{"p":"AlCl3","c":"0.0625M","t":8.8,"v":66},{"p":"AlCl3","c":"0.0625M","t":10,"v":63.6},{"p":"AlCl3","c":"0.0625M","t":10.8,"v":59},{"p":"AlCl3","c":"0.0625M","t":11.6,"v":49.2},{"p":"AlCl3","c":"0.0625M","t":12.4,"v":34.1},{"p":"AlCl3","c":"0.0625M","t":13.2,"v":19},{"p":"AlCl3","c":"0.0625M","t":14,"v":9.3},{"p":"AlCl3","c":"0.0625M","t":14.8,"v":4.6},{"p":"AlCl3","c":"0.0625M","t":16,"v":2.2},{"p":"AlCl3","c":"0.0625M","t":40,"v":1.5},
{"p":"AlCl3","c":"0.125M","t":5,"v":7},{"p":"AlCl3","c":"0.125M","t":6,"v":4.5},{"p":"AlCl3","c":"0.125M","t":7,"v":3},{"p":"AlCl3","c":"0.125M","t":8,"v":2},{"p":"AlCl3","c":"0.125M","t":9,"v":1.5},{"p":"AlCl3","c":"0.125M","t":10,"v":1.2},{"p":"AlCl3","c":"0.125M","t":12,"v":1},{"p":"AlCl3","c":"0.125M","t":40,"v":1},
{"p":"AlCl3","c":"0.25M","t":5,"v":2},{"p":"AlCl3","c":"0.25M","t":40,"v":1.8},
{"p":"AlCl3","c":"0.5M","t":5,"v":0},{"p":"AlCl3","c":"0.5M","t":40,"v":0}
]
},
"vconcat": [
{"spacing": 10, "resolve": {"scale": {"fill": "independent", "stroke": "independent", "color": "independent"}}, "hconcat": [
 {"width": 226, "height": 183,
  "encoding": {
   "x": {"field": "t", "type": "quantitative", "scale": {"domain": [0, 45], "nice": false}, "axis": {"title": "Temperature (℃)", "values": [0,2.5,5,7.5,10,12.5,15,17.5,20,22.5,25,27.5,30,32.5,35,37.5,40,42.5,45], "labelExpr": "datum.value % 5 == 0 ? format(datum.value, 'd') : ''", "tickSize": {"condition": {"test": "datum.value % 5 != 0", "value": 2}, "value": 4}}},
   "y": {"field": "v", "type": "quantitative", "scale": {"domain": [-10, 100], "nice": false}, "axis": {"title": "Visble light transmittance (%)", "values": [-10,0,10,20,30,40,50,60,70,80,90,100], "labelExpr": "datum.value % 20 == 0 ? format(datum.value, 'd') : ''", "tickSize": {"condition": {"test": "datum.value % 20 != 0", "value": 2}, "value": 4}}}
  },
  "layer": [
   {"data": {"name": "pts"}, "transform": [{"filter": "datum.p == 'LiCl'"}], "mark": {"type": "point", "filled": true, "size": 16, "opacity": 1}, "encoding": {"color": {"field": "c", "type": "nominal", "scale": {"domain": ["0.0156M","0.0312M","0.0625M","0.125M","0.25M","0.5M","1.0M"], "range": ["#1b4f43","#1f6b5a","#2c8a72","#5fd0ae","#f6a33a","#e5822a","#a65a22"]}, "legend": {"disable": false, "title": null, "orient": "top-right", "offset": 6, "padding": 5, "strokeColor": "#aaa", "fillColor": "white", "labelFont": "Liberation Mono", "labelFontSize": 8, "labelColor": "#333", "rowPadding": 1, "symbolType": "circle", "symbolSize": 16}}}},
   {"data": {"name": "fit"}, "transform": [{"filter": "datum.p == 'LiCl'"}], "mark": {"type": "line", "interpolate": "monotone", "strokeWidth": 1.4}, "encoding": {"stroke": {"field": "c", "type": "nominal", "scale": {"domain": ["0.0156M","0.0312M","0.0625M","0.125M","0.25M","0.5M","1.0M"], "range": ["#1b4f43","#1f6b5a","#2c8a72","#5fd0ae","#f6a33a","#e5822a","#a65a22"]}, "legend": null}}},
   {"data": {"values": [{"t": 34.3, "v": 30.7, "lab": "LiCl"}]}, "mark": {"type": "text", "font": "Liberation Sans", "fontWeight": "bold", "fontSize": 22, "color": "#3a475a"}, "encoding": {"text": {"field": "lab"}}}
  ]},
 {"width": 224, "height": 183,
  "encoding": {
   "x": {"field": "t", "type": "quantitative", "scale": {"domain": [0, 45], "nice": false}, "axis": {"title": "Temperature (℃)", "values": [0,2.5,5,7.5,10,12.5,15,17.5,20,22.5,25,27.5,30,32.5,35,37.5,40,42.5,45], "labelExpr": "datum.value % 5 == 0 ? format(datum.value, 'd') : ''", "tickSize": {"condition": {"test": "datum.value % 5 != 0", "value": 2}, "value": 4}}},
   "y": {"field": "v", "type": "quantitative", "scale": {"domain": [-5, 100], "nice": false}, "axis": {"title": "Visble light transmittance (%)", "values": [0,10,20,30,40,50,60,70,80,90,100], "labelExpr": "datum.value % 20 == 0 ? format(datum.value, 'd') : ''", "tickSize": {"condition": {"test": "datum.value % 20 != 0", "value": 2}, "value": 4}}}
  },
  "layer": [
   {"data": {"name": "pts"}, "transform": [{"filter": "datum.p == 'NaCl'"}], "mark": {"type": "point", "filled": true, "size": 16, "opacity": 1}, "encoding": {"color": {"field": "c", "type": "nominal", "scale": {"domain": ["0.0156M","0.0312M","0.0625M","0.125M","0.25M","0.5M","1.0M"], "range": ["#1b4f43","#1f6b5a","#2c8a72","#5fd0ae","#f6a33a","#e5822a","#a65a22"]}, "legend": {"disable": false, "title": null, "orient": "top-right", "offset": 6, "padding": 5, "strokeColor": "#aaa", "fillColor": "white", "labelFont": "Liberation Mono", "labelFontSize": 8, "labelColor": "#333", "rowPadding": 1, "symbolType": "circle", "symbolSize": 16}}}},
   {"data": {"name": "fit"}, "transform": [{"filter": "datum.p == 'NaCl'"}], "mark": {"type": "line", "interpolate": "monotone", "strokeWidth": 1.4}, "encoding": {"stroke": {"field": "c", "type": "nominal", "scale": {"domain": ["0.0156M","0.0312M","0.0625M","0.125M","0.25M","0.5M","1.0M"], "range": ["#1b4f43","#1f6b5a","#2c8a72","#5fd0ae","#f6a33a","#e5822a","#a65a22"]}, "legend": null}}},
   {"data": {"values": [{"t": 32.8, "v": 33.2, "lab": "NaCl"}]}, "mark": {"type": "text", "font": "Liberation Sans", "fontWeight": "bold", "fontSize": 22, "color": "#3a475a"}, "encoding": {"text": {"field": "lab"}}}
  ]},
 {"width": 225, "height": 183,
  "encoding": {
   "x": {"field": "t", "type": "quantitative", "scale": {"domain": [0, 45], "nice": false}, "axis": {"title": "Temperature (℃)", "values": [0,2.5,5,7.5,10,12.5,15,17.5,20,22.5,25,27.5,30,32.5,35,37.5,40,42.5,45], "labelExpr": "datum.value % 5 == 0 ? format(datum.value, 'd') : ''", "tickSize": {"condition": {"test": "datum.value % 5 != 0", "value": 2}, "value": 4}}},
   "y": {"field": "v", "type": "quantitative", "scale": {"domain": [-5, 100], "nice": false}, "axis": {"title": "Visble light transmittance (%)", "values": [0,10,20,30,40,50,60,70,80,90,100], "labelExpr": "datum.value % 20 == 0 ? format(datum.value, 'd') : ''", "tickSize": {"condition": {"test": "datum.value % 20 != 0", "value": 2}, "value": 4}}}
  },
  "layer": [
   {"data": {"name": "pts"}, "transform": [{"filter": "datum.p == 'KCl'"}], "mark": {"type": "point", "filled": true, "size": 16, "opacity": 1}, "encoding": {"color": {"field": "c", "type": "nominal", "scale": {"domain": ["0.0156M","0.0312M","0.0625M","0.125M","0.25M","0.5M","1.0M"], "range": ["#1b4f43","#1f6b5a","#2c8a72","#5fd0ae","#f6a33a","#e5822a","#a65a22"]}, "legend": {"disable": false, "title": null, "orient": "top-right", "offset": 6, "padding": 5, "strokeColor": "#aaa", "fillColor": "white", "labelFont": "Liberation Mono", "labelFontSize": 8, "labelColor": "#333", "rowPadding": 1, "symbolType": "circle", "symbolSize": 16}}}},
   {"data": {"name": "fit"}, "transform": [{"filter": "datum.p == 'KCl'"}], "mark": {"type": "line", "interpolate": "monotone", "strokeWidth": 1.4}, "encoding": {"stroke": {"field": "c", "type": "nominal", "scale": {"domain": ["0.0156M","0.0312M","0.0625M","0.125M","0.25M","0.5M","1.0M"], "range": ["#1b4f43","#1f6b5a","#2c8a72","#5fd0ae","#f6a33a","#e5822a","#a65a22"]}, "legend": null}}},
   {"data": {"values": [{"t": 34, "v": 33.2, "lab": "KCl"}]}, "mark": {"type": "text", "font": "Liberation Sans", "fontWeight": "bold", "fontSize": 22, "color": "#3a475a"}, "encoding": {"text": {"field": "lab"}}}
  ]}
]},
{"spacing": 10, "resolve": {"scale": {"fill": "independent", "stroke": "independent", "color": "independent"}}, "hconcat": [
 {"width": 226, "height": 182,
  "encoding": {
   "x": {"field": "t", "type": "quantitative", "scale": {"domain": [0, 45], "nice": false}, "axis": {"title": "Temperature (℃)", "values": [0,2.5,5,7.5,10,12.5,15,17.5,20,22.5,25,27.5,30,32.5,35,37.5,40,42.5,45], "labelExpr": "datum.value % 5 == 0 ? format(datum.value, 'd') : ''", "tickSize": {"condition": {"test": "datum.value % 5 != 0", "value": 2}, "value": 4}}},
   "y": {"field": "v", "type": "quantitative", "scale": {"domain": [-5, 100], "nice": false}, "axis": {"title": "Visble light transmittance (%)", "values": [0,10,20,30,40,50,60,70,80,90,100], "labelExpr": "datum.value % 20 == 0 ? format(datum.value, 'd') : ''", "tickSize": {"condition": {"test": "datum.value % 20 != 0", "value": 2}, "value": 4}}}
  },
  "layer": [
   {"data": {"name": "fit"}, "transform": [{"filter": "datum.p == 'MgCl2'"}], "mark": {"type": "line", "interpolate": "monotone", "strokeWidth": 1.4}, "encoding": {"stroke": {"field": "c", "type": "nominal", "scale": {"domain": ["0.0156M","0.0312M","0.0625M","0.125M","0.25M","0.5M","1.0M"], "range": ["#1b4f43","#1f6b5a","#2c8a72","#5fd0ae","#f6a33a","#e5822a","#a65a22"]}, "legend": {"disable": false, "title": null, "orient": "top-right", "offset": 8, "padding": 6, "strokeColor": "#aaa", "fillColor": "white", "labelFont": "Liberation Mono", "labelFontSize": 8, "labelColor": "#333", "rowPadding": 0.5, "labelOffset": 9, "symbolType": "M-2,0H2", "symbolSize": 100, "symbolStrokeWidth": 2}}}},
   {"data": {"name": "pts"}, "transform": [{"filter": "datum.p == 'MgCl2'"}], "mark": {"type": "point", "filled": true, "size": 16, "opacity": 1}, "encoding": {"fill": {"field": "c", "type": "nominal", "scale": {"domain": ["0.0156M","0.0312M","0.0625M","0.125M","0.25M","0.5M","1.0M"], "range": ["#1b4f43","#1f6b5a","#2c8a72","#5fd0ae","#f6a33a","#e5822a","#a65a22"]}, "legend": null}}},
   {"data": {"values": [{"t": 35.5, "v": 24.5, "lab": "MgCl₂"}]}, "mark": {"type": "text", "font": "Liberation Sans", "fontWeight": "bold", "fontSize": 22, "color": "#3a475a"}, "encoding": {"text": {"field": "lab"}}}
  ]},
 {"width": 224, "height": 182,
  "encoding": {
   "x": {"field": "t", "type": "quantitative", "scale": {"domain": [0, 45], "nice": false}, "axis": {"title": "Temperature (℃)", "values": [0,2.5,5,7.5,10,12.5,15,17.5,20,22.5,25,27.5,30,32.5,35,37.5,40,42.5,45], "labelExpr": "datum.value % 5 == 0 ? format(datum.value, 'd') : ''", "tickSize": {"condition": {"test": "datum.value % 5 != 0", "value": 2}, "value": 4}}},
   "y": {"field": "v", "type": "quantitative", "scale": {"domain": [-5, 100], "nice": false}, "axis": {"title": "Visble light transmittance (%)", "values": [0,10,20,30,40,50,60,70,80,90,100], "labelExpr": "datum.value % 20 == 0 ? format(datum.value, 'd') : ''", "tickSize": {"condition": {"test": "datum.value % 20 != 0", "value": 2}, "value": 4}}}
  },
  "layer": [
   {"data": {"name": "fit"}, "transform": [{"filter": "datum.p == 'CaCl2'"}], "mark": {"type": "line", "interpolate": "monotone", "strokeWidth": 1.4}, "encoding": {"stroke": {"field": "c", "type": "nominal", "scale": {"domain": ["0.0156M","0.0312M","0.0625M","0.125M","0.25M","0.5M"], "range": ["#1b4f43","#1f6b5a","#2c8a72","#5fd0ae","#f6a33a","#e5822a"]}, "legend": {"disable": false, "title": null, "orient": "top-right", "offset": 8, "padding": 6, "strokeColor": "#aaa", "fillColor": "white", "labelFont": "Liberation Mono", "labelFontSize": 8, "labelColor": "#333", "rowPadding": 0.5, "labelOffset": 9, "symbolType": "M-2,0H2", "symbolSize": 100, "symbolStrokeWidth": 2}}}},
   {"data": {"name": "pts"}, "transform": [{"filter": "datum.p == 'CaCl2'"}], "mark": {"type": "point", "filled": true, "size": 16, "opacity": 1}, "encoding": {"fill": {"field": "c", "type": "nominal", "scale": {"domain": ["0.0156M","0.0312M","0.0625M","0.125M","0.25M","0.5M"], "range": ["#1b4f43","#1f6b5a","#2c8a72","#5fd0ae","#f6a33a","#e5822a"]}, "legend": null}}},
   {"data": {"values": [{"t": 33, "v": 31.2, "lab": "CaCl₂"}]}, "mark": {"type": "text", "font": "Liberation Sans", "fontWeight": "bold", "fontSize": 22, "color": "#3a475a"}, "encoding": {"text": {"field": "lab"}}}
  ]},
 {"width": 225, "height": 182,
  "encoding": {
   "x": {"field": "t", "type": "quantitative", "scale": {"domain": [0, 45], "nice": false}, "axis": {"title": "Temperature (℃)", "values": [0,2.5,5,7.5,10,12.5,15,17.5,20,22.5,25,27.5,30,32.5,35,37.5,40,42.5,45], "labelExpr": "datum.value % 5 == 0 ? format(datum.value, 'd') : ''", "tickSize": {"condition": {"test": "datum.value % 5 != 0", "value": 2}, "value": 4}}},
   "y": {"field": "v", "type": "quantitative", "scale": {"domain": [-5, 100], "nice": false}, "axis": {"title": "Visble light transmittance (%)", "values": [0,10,20,30,40,50,60,70,80,90,100], "labelExpr": "datum.value % 20 == 0 ? format(datum.value, 'd') : ''", "tickSize": {"condition": {"test": "datum.value % 20 != 0", "value": 2}, "value": 4}}}
  },
  "layer": [
   {"data": {"name": "fit"}, "transform": [{"filter": "datum.p == 'AlCl3'"}], "mark": {"type": "line", "interpolate": "monotone", "strokeWidth": 1.4}, "encoding": {"stroke": {"field": "c", "type": "nominal", "scale": {"domain": ["0.0156M","0.0312M","0.0625M","0.125M","0.25M","0.5M"], "range": ["#1b4f43","#1f6b5a","#2c8a72","#5fd0ae","#f6a33a","#e5822a"]}, "legend": {"disable": false, "title": null, "orient": "top-right", "offset": 8, "padding": 6, "strokeColor": "#aaa", "fillColor": "white", "labelFont": "Liberation Mono", "labelFontSize": 8, "labelColor": "#333", "rowPadding": 0.5, "labelOffset": 9, "symbolType": "M-2,0H2", "symbolSize": 100, "symbolStrokeWidth": 2}}}},
   {"data": {"name": "pts"}, "transform": [{"filter": "datum.p == 'AlCl3'"}], "mark": {"type": "point", "filled": true, "size": 16, "opacity": 1}, "encoding": {"fill": {"field": "c", "type": "nominal", "scale": {"domain": ["0.0156M","0.0312M","0.0625M","0.125M","0.25M","0.5M"], "range": ["#1b4f43","#1f6b5a","#2c8a72","#5fd0ae","#f6a33a","#e5822a"]}, "legend": null}}},
   {"data": {"values": [{"t": 35.1, "v": 28.3, "lab": "AlCl₃"}]}, "mark": {"type": "text", "font": "Liberation Sans", "fontWeight": "bold", "fontSize": 22, "color": "#3a475a"}, "encoding": {"text": {"field": "lab"}}}
  ]}
]}
]
}
